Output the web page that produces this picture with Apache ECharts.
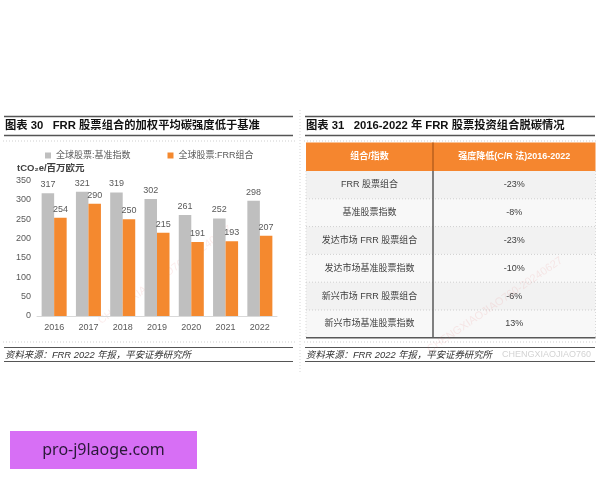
<!DOCTYPE html>
<html>
<head>
<meta charset="utf-8">
<script src="https://cdn.jsdelivr.net/npm/echarts@6/dist/echarts.min.js"></script>
<style>
html, body { margin: 0; padding: 0; background: #fff; }
#main { width: 600px; height: 480px; }
</style>
</head>
<body>
<div id="main"></div>
<script>
// 数据
const years = ['2016', '2017', '2018', '2019', '2020', '2021', '2022'];
const benchmarkValues = [317, 321, 319, 302, 261, 252, 298];
const frrValues = [254, 290, 250, 215, 191, 193, 207];
const seriesNames = ['全球股票:基准指数', '全球股票:FRR组合'];

const tableHeader = ['组合/指数', '强度降低(C/R 法)2016-2022'];
const tableNames = ['FRR 股票组合', '基准股票指数', '发达市场 FRR 股票组合', '发达市场基准股票指数', '新兴市场 FRR 股票组合', '新兴市场基准股票指数'];
const tableValues = ['-23%', '-8%', '-23%', '-10%', '-6%', '13%'];

const leftTitle = '图表 30   FRR 股票组合的加权平均碳强度低于基准';
const rightTitle = '图表 31   2016-2022 年 FRR 股票投资组合脱碳情况';
const sourceText = '资料来源：FRR 2022 年报，平安证券研究所';

const FONT = '"Liberation Sans", "Noto Sans CJK SC", sans-serif';
const GRAY = '#BFBFBF';
const ORANGE = '#F4892F';

const chart = echarts.init(document.getElementById('main'));

// 画线的小工具
function line(x1, y1, x2, y2, color, width, dash) {
    return {
        type: 'line',
        shape: { x1: x1, y1: y1, x2: x2, y2: y2 },
        style: { stroke: color, lineWidth: width, lineDash: dash || null },
        silent: true
    };
}
function text(x, y, str, opts) {
    return {
        type: 'text',
        x: x, y: y,
        silent: true,
        style: Object.assign({
            text: str,
            font: '11px ' + FONT,
            fill: '#333',
            verticalAlign: 'middle',
            align: 'left'
        }, opts || {})
    };
}

const g = [];

// 两个面板的标题和底部来源
[[4, 293, 5], [305, 595, 306]].forEach(function (p, i) {
    g.push(line(p[0], 116.5, p[1], 116.5, '#555', 1.5));
    g.push(text(p[2], 126, i === 0 ? leftTitle : rightTitle, { font: 'bold 11.3px ' + FONT, fill: '#111' }));
    g.push(line(p[0], 135.5, p[1], 135.5, '#555', 1.5));
    g.push(line(p[0] - 1, 141, p[1] + 2, 141, '#cfcfcf', 1, [1, 2]));
    g.push(line(p[0] - 1, 342, p[1] + 2, 342, '#cfcfcf', 1, [1, 2]));
    g.push(line(p[0], 347.5, p[1], 347.5, '#555', 1.2));
    g.push(text(p[2], 355, sourceText, { font: 'italic 9.4px ' + FONT, fill: '#333' }));
    g.push(line(p[0], 361.5, p[1], 361.5, '#555', 1.2));
});
g.push(line(300, 110, 300, 372, '#d5d5d5', 1, [1, 2]));
g.push(text(591, 355, 'CHENGXIAOJIAO760', { font: '9px ' + FONT, fill: '#d3d3d3', align: 'right' }));

// y 轴单位
g.push(text(17, 168, 'tCO₂e/百万欧元', { font: 'bold 9.5px ' + FONT, fill: '#404040' }));

// 表格
const tX0 = 306, tX1 = 595.5, tCol = 433, tTop = 142.5, headH = 28.5, rowH = 27.8;
const tBottom = tTop + headH + rowH * tableNames.length;
tableNames.forEach(function (name, i) {
    const y = tTop + headH + i * rowH;
    g.push({ type: 'rect', silent: true, shape: { x: tX0, y: y, width: tX1 - tX0, height: rowH },
        style: { fill: i % 2 === 0 ? '#F2F2F2' : '#F8F8F8' } });
    if (i > 0) g.push(line(tX0, y, tX1, y, '#cfcfcf', 1, [1, 2]));
    g.push(text((tX0 + tCol) / 2, y + rowH / 2, name, { font: '9px ' + FONT, fill: '#404040', align: 'center' }));
    g.push(text((tCol + tX1) / 2, y + rowH / 2, tableValues[i], { font: '9px ' + FONT, fill: '#404040', align: 'center' }));
});
g.push({ type: 'rect', silent: true, shape: { x: tX0, y: tTop, width: tX1 - tX0, height: headH }, style: { fill: '#F5862F' } });
g.push(text((tX0 + tCol) / 2, tTop + headH / 2, tableHeader[0], { font: 'bold 9px ' + FONT, fill: '#fff', align: 'center' }));
g.push(text((tCol + tX1) / 2, tTop + headH / 2, tableHeader[1], { font: 'bold 9px ' + FONT, fill: '#fff', align: 'center' }));
g.push(line(tCol, tTop, tCol, tTop + headH, '#B85F1E', 1.5));
g.push(line(tCol, tTop + headH, tCol, tBottom, '#595959', 1.5));
g.push(line(tX0, tTop + headH, tX0, tBottom, '#d8d8d8', 1, [1, 2]));
g.push(line(tX1, tTop + headH, tX1, tBottom, '#d8d8d8', 1, [1, 2]));
g.push(line(tX0, tBottom, tX1, tBottom, '#595959', 1.5));

// 水印
const wm1 = text(165, 275, 'CHENGXIAOJIAO760-20240627', { font: '11px ' + FONT, fill: 'rgba(230,110,110,0.13)', align: 'center' });
wm1.rotation = 0.62;
g.push(wm1);
const wm2 = text(495, 305, 'CHENGXIAOJIAO760-20240627', { font: '11px ' + FONT, fill: 'rgba(230,110,110,0.13)', align: 'center' });
wm2.rotation = 0.6;
g.push(wm2);

// 粉色框
g.push({ type: 'rect', silent: true, shape: { x: 10, y: 431, width: 187, height: 38 }, style: { fill: '#D76FF5' } });
g.push(text(103.5, 450, 'pro-j9laoge.com', { font: '16px "Noto Sans", sans-serif', fill: '#2A1838', align: 'center' }));

chart.setOption({
    backgroundColor: '#fff',
    animation: false,
    textStyle: { fontFamily: FONT },
    legend: {
        left: 40, top: 146,
        itemWidth: 6, itemHeight: 6, itemGap: 37,
        icon: 'rect',
        textStyle: { fontSize: 9, color: '#595959' },
        data: seriesNames
    },
    grid: { left: 37, right: 323, top: 180.5, bottom: 164 },
    xAxis: {
        type: 'category',
        data: years,
        axisLine: { lineStyle: { color: '#D9D9D9' } },
        axisTick: { show: false },
        axisLabel: { fontSize: 9, color: '#595959', margin: 7 }
    },
    yAxis: {
        type: 'value',
        min: 0, max: 350, interval: 50,
        splitLine: { show: false },
        axisLine: { show: false },
        axisTick: { show: false },
        axisLabel: { fontSize: 9, color: '#595959', margin: 6 }
    },
    series: [
        {
            name: seriesNames[0], type: 'bar', data: benchmarkValues,
            barGap: 0, barCategoryGap: '27%',
            itemStyle: { color: GRAY },
            label: { show: true, position: 'top', fontSize: 9, color: '#595959', distance: 4 }
        },
        {
            name: seriesNames[1], type: 'bar', data: frrValues,
            itemStyle: { color: ORANGE },
            label: { show: true, position: 'top', fontSize: 9, color: '#595959', distance: 4 }
        }
    ],
    graphic: g
});
</script>
</body>
</html>
